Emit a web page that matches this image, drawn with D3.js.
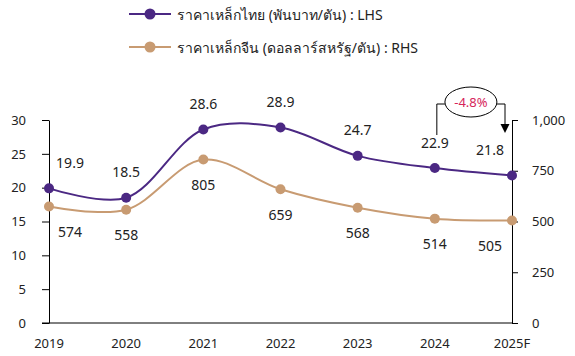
<!DOCTYPE html>
<html><head><meta charset="utf-8">
<script src="https://cdn.jsdelivr.net/npm/d3@7"></script>
<style>
body{margin:0;background:#fff;}
text{font-family:"Noto Sans","Open Sans",Tahoma,sans-serif;}
</style></head>
<body><svg id="c" width="575" height="356"></svg>
<script>
const categories = ["2019","2020","2021","2022","2023","2024","2025F"];
const thaiSteel = [19.9,18.5,28.6,28.9,24.7,22.9,21.8];
const chinaSteel = [574,558,805,659,568,514,505];
const leftTicks = [0,5,10,15,20,25,30];
const rightTicks = [0,250,500,750,1000];
const seriesNames = ["ราคาเหล็กไทย (พันบาท/ตัน) : LHS","ราคาเหล็กจีน (ดอลลาร์สหรัฐ/ตัน) : RHS"];
const changeLabel = "-4.8%";

const purple = "#4B2883", tan = "#C89B72";
const svg = d3.select("#c");
const x = d3.scalePoint().domain(categories).range([49,512]);
const yL = d3.scaleLinear().domain([0,30]).range([323,120]);
const yR = d3.scaleLinear().domain([0,1000]).range([323,120]);

// axes
const gL = svg.append("g").attr("transform","translate(49,0)")
  .call(d3.axisLeft(yL).tickValues(leftTicks).tickSize(7).tickPadding(16).tickSizeOuter(0));
const gR = svg.append("g").attr("transform","translate(512,0)")
  .call(d3.axisRight(yR).tickValues(rightTicks).tickSize(6).tickPadding(14).tickSizeOuter(0)
    .tickFormat(d3.format(",")));
[gL,gR].forEach(g=>{
  g.select(".domain").attr("stroke","#000");
  g.selectAll(".tick line").attr("stroke","#000");
  g.selectAll(".tick text").attr("font-size",13).attr("fill","#222");
});
// bottom axis line
svg.append("line").attr("x1",42).attr("x2",512).attr("y1",yL(0)).attr("y2",yL(0)).attr("stroke","#000");
svg.append("g").selectAll("text").data(categories).join("text")
  .attr("x",d=>x(d)).attr("y",348).attr("text-anchor","middle")
  .attr("font-size",13).attr("fill","#222").text(d=>d);

const line = d3.line().curve(d3.curveCatmullRom);
function drawSeries(vals, y, color, labelDy, fmt){
  const pts = vals.map((v,i)=>[x(categories[i]), y(v)]);
  svg.append("path").attr("d",line(pts)).attr("fill","none").attr("stroke",color).attr("stroke-width",2);
  svg.append("g").selectAll("circle").data(pts).join("circle")
    .attr("cx",d=>d[0]).attr("cy",d=>d[1]).attr("r",5).attr("fill",color);
  svg.append("g").selectAll("text").data(vals).join("text")
    .attr("x",(d,i)=>x(categories[i]) + (i===0?21:(i===vals.length-1?-22:0)))
    .attr("y",(d,i)=>y(d)+labelDy)
    .attr("text-anchor","middle").attr("dominant-baseline","central")
    .attr("font-size",14).attr("fill","#222").text(d=>fmt(d));
}
drawSeries(chinaSteel, yR, tan, 25, d=>d3.format("d")(d));
drawSeries(thaiSteel, yL, purple, -26, d=>d3.format(".1f")(d));

// legend
const leg = svg.append("g");
[purple,tan].forEach((c,i)=>{
  const yy = 14 + i*33;
  leg.append("line").attr("x1",129).attr("x2",171).attr("y1",yy).attr("y2",yy).attr("stroke",c).attr("stroke-width",2);
  leg.append("circle").attr("cx",150).attr("cy",yy).attr("r",5.5).attr("fill",c);
  leg.append("text").attr("x",177).attr("y",yy).attr("dominant-baseline","central")
    .attr("font-size",14).attr("fill","#222").text(seriesNames[i]);
});

// annotation
const xa = x("2024")+2, xb = x("2025F")-7, ym = 104;
const cx = (xa+xb)/2;
svg.append("path").attr("d",`M${xa},135V${ym}H${cx-26}M${cx+26},${ym}H${xb}V124`)
  .attr("fill","none").attr("stroke","#000").attr("stroke-width",1);
svg.append("path").attr("d",`M${xb-4.5},124L${xb+4.5},124L${xb},133Z`).attr("fill","#000");
svg.append("ellipse").attr("cx",cx).attr("cy",102).attr("rx",26).attr("ry",15)
  .attr("fill","#fff").attr("stroke","#000").attr("stroke-width",1);
svg.append("text").attr("x",cx).attr("y",102).attr("text-anchor","middle").attr("dominant-baseline","central")
  .attr("font-size",13).attr("fill","#D6245A").text(changeLabel);
</script></body></html>
